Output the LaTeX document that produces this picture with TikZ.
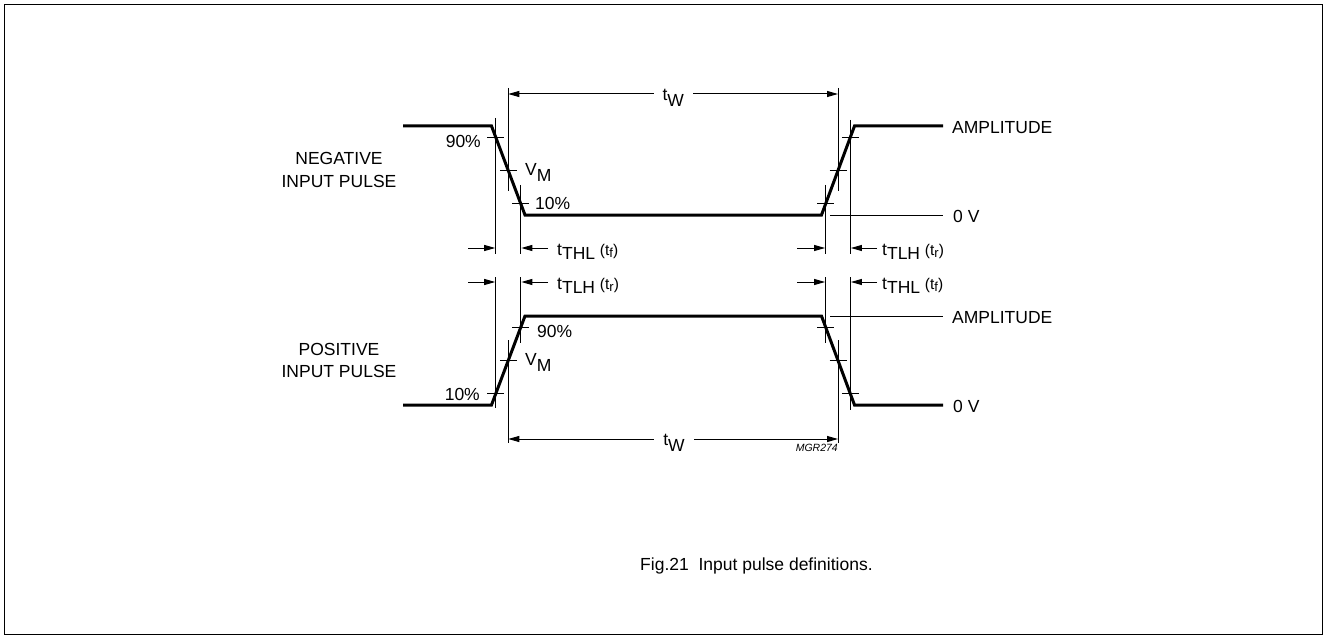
\documentclass[tikz,border=0pt]{standalone}
\usepackage{fontspec}
\setmainfont{Liberation Sans}
\usetikzlibrary{arrows.meta,calc}
\newcommand{\lb}{\fontsize{17.5}{21}\selectfont}
\newcommand{\smf}{\fontsize{15.5}{17}\selectfont}
\newcommand{\lowr}[2][5pt]{\raisebox{-#1}{#2}}
\newcommand{\tpar}[1]{{\smf(t\raisebox{-2pt}{\fontsize{13}{14}\selectfont #1})}}
\begin{document}
\begin{tikzpicture}[x=1pt,y=-1pt,
  thinl/.style={line width=1pt},
  wave/.style={line width=3pt},
  lbl/.style={font=\lb, inner sep=0pt},
  dimarr/.style={line width=1pt, {Triangle[length=11pt,width=6pt]}-{Triangle[length=11pt,width=6pt]}},
  onearr/.style={line width=1pt, -{Triangle[length=11pt,width=6pt]}}]
\useasboundingbox (0,0) rectangle (1327,639);
\draw[line width=1pt] (4.5,4.5) rectangle (1322.5,634.5);

% negative pulse
\coordinate (a0) at (403,126);
\coordinate (a1) at (491.5,126);
\coordinate (a2) at (525,215);
\coordinate (a3) at (821.5,215);
\coordinate (a4) at (854.5,126);
\coordinate (a5) at (943,126);
\draw[wave] (a0) -- (a1) -- (a2) -- (a3) -- (a4) -- (a5);
\coordinate (n90) at ($(a1)!0.125!(a2)$);
\coordinate (nM)  at ($(a1)!0.5!(a2)$);
\coordinate (n10) at ($(a1)!0.875!(a2)$);
\coordinate (m10) at ($(a3)!0.125!(a4)$);
\coordinate (mM)  at ($(a3)!0.5!(a4)$);
\coordinate (m90) at ($(a3)!0.875!(a4)$);

% positive pulse
\coordinate (b0) at (403,405);
\coordinate (b1) at (491.5,405);
\coordinate (b2) at (525,316);
\coordinate (b3) at (821.5,316);
\coordinate (b4) at (854.5,405);
\coordinate (b5) at (943,405);
\draw[wave] (b0) -- (b1) -- (b2) -- (b3) -- (b4) -- (b5);
\coordinate (p10) at ($(b1)!0.125!(b2)$);
\coordinate (pM)  at ($(b1)!0.5!(b2)$);
\coordinate (p90) at ($(b1)!0.875!(b2)$);
\coordinate (q90) at ($(b3)!0.125!(b4)$);
\coordinate (qM)  at ($(b3)!0.5!(b4)$);
\coordinate (q10) at ($(b3)!0.875!(b4)$);

% ticks
\foreach \p in {n90,nM,n10,m10,mM,m90,p10,pM,p90,q90,qM,q10}
  \draw[thinl] ($(\p)+(-8.5,0)$) -- ($(\p)+(8.5,0)$);

% reference lines
\draw[thinl] (830,215) -- (943,215);
\draw[thinl] (830,316) -- (943,316);

% verticals upper
\draw[thinl] (495.7,118) -- (495.7,254);
\draw[thinl] (508.25,88) -- (508.25,191);
\draw[thinl] (520.8,185) -- (520.8,254);
\draw[thinl] (825.6,185) -- (825.6,254);
\draw[thinl] (838,88) -- (838,191);
\draw[thinl] (850.4,120) -- (850.4,254);
% verticals lower
\draw[thinl] (495.7,277) -- (495.7,408);
\draw[thinl] (508.25,340) -- (508.25,443);
\draw[thinl] (520.8,277) -- (520.8,343);
\draw[thinl] (825.6,277) -- (825.6,343);
\draw[thinl] (838,340) -- (838,443);
\draw[thinl] (850.4,277) -- (850.4,410);

% tW dimensions
\coordinate (twa1) at (508.25,94);
\coordinate (twa2) at (838,94);
\coordinate (twb1) at (508.25,439);
\coordinate (twb2) at (838,439);
\draw[dimarr] (twa1) -- (twa2);
\draw[dimarr] (twb1) -- (twb2);
\node[lbl, anchor=base, fill=white, inner xsep=9pt] (twla) at (673.3,101) {t\lowr[6pt]{W}};
\node[lbl, anchor=base, fill=white, inner xsep=9pt] (twlb) at (674,445) {t\lowr[6pt]{W}};

% rise/fall arrows
\foreach \yy in {248,282}{
  \draw[onearr] (468,\yy) -- (495.2,\yy);
  \draw[onearr] (548,\yy) -- (521.3,\yy);
  \draw[onearr] (797,\yy) -- (825.1,\yy);
  \draw[onearr] (877,\yy) -- (850.9,\yy);
}
\node[lbl, anchor=base west] (t1) at (557,255) {t\lowr[4.5pt]{THL} \tpar{f}};
\node[lbl, anchor=base west] (t2) at (882,255) {t\lowr[4.5pt]{TLH} \tpar{r}};
\node[lbl, anchor=base west] (t3) at (557,289) {t\lowr[4.5pt]{TLH} \tpar{r}};
\node[lbl, anchor=base west] (t4) at (882,289) {t\lowr[4.5pt]{THL} \tpar{f}};

% level labels
\node[lbl, anchor=base east] (l90a) at (481,147.5) {90\%};
\node[lbl, anchor=base west] (lvma) at (525,175.5) {V\lowr[6pt]{M}};
\node[lbl, anchor=base west] (l10a) at (535,209) {10\%};
\node[lbl, anchor=base west] (l90b) at (537,337.5) {90\%};
\node[lbl, anchor=base west] (lvmb) at (525,365.5) {V\lowr[6pt]{M}};
\node[lbl, anchor=base east] (l10b) at (480,400) {10\%};

\node[lbl, anchor=base west] (amp1) at (952,133.5) {AMPLITUDE};
\node[lbl, anchor=base west] (zv1) at (953,222.5) {0 V};
\node[lbl, anchor=base west] (amp2) at (952,323) {AMPLITUDE};
\node[lbl, anchor=base west] (zv2) at (953,412) {0 V};

\node[lbl, anchor=base] (neg1) at (339,165) {NEGATIVE};
\node[lbl, anchor=base] (neg2) at (339,187.5) {INPUT PULSE};
\node[lbl, anchor=base] (pos1) at (339,355) {POSITIVE};
\node[lbl, anchor=base] (pos2) at (339,377.5) {INPUT PULSE};

\node[font=\fontsize{10.5}{12}\selectfont\itshape, inner sep=0pt, anchor=base east] (mgr) at (838,451) {MGR274};
\node[lbl, anchor=base west] (cap) at (640,570) {Fig.21\ \ Input pulse definitions.};
\end{tikzpicture}
\end{document}
